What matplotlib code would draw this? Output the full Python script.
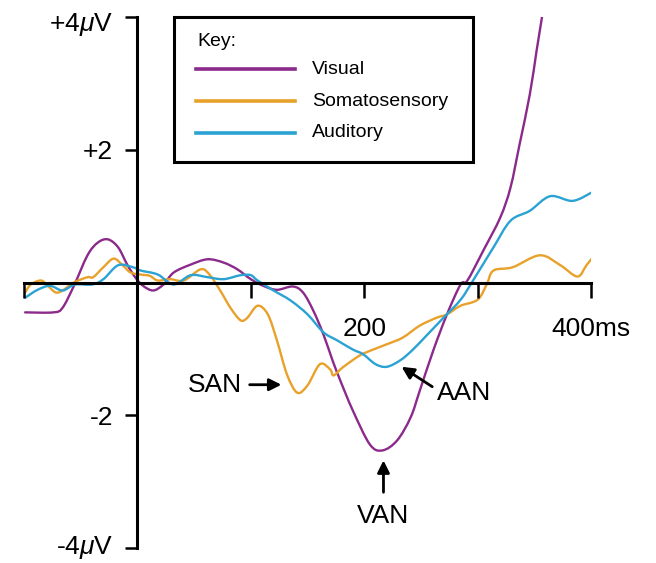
import matplotlib
matplotlib.use("Agg")
import matplotlib.pyplot as plt
from matplotlib.lines import Line2D
from matplotlib.patches import Rectangle, PathPatch
from matplotlib.path import Path
from matplotlib.transforms import ScaledTranslation

plt.rcParams['font.family'] = ['Liberation Sans', 'DejaVu Sans']
plt.rcParams['mathtext.fontset'] = 'custom'
plt.rcParams['mathtext.it'] = 'Liberation Sans:italic'
plt.rcParams['mathtext.rm'] = 'Liberation Sans'

# ERP traces (time in ms, amplitude in microvolts)
visual_t = [-99, -74, -66, -56, -44, -35, -26, -17, -9, -2, 5, 14, 23, 32, 47,
            62, 76, 88, 100, 111, 123, 137, 146, 155, 164, 172, 179, 190, 205,
            216, 229, 241, 249, 261, 273, 285, 291, 305, 320, 329, 337, 346,
            352, 357]
visual_v = [-0.45, -0.45, -0.38, -0.05, 0.41, 0.60, 0.65, 0.53, 0.27, 0.08,
            -0.05, -0.12, -0.03, 0.15, 0.27, 0.35, 0.30, 0.20, 0.05, -0.05,
            -0.11, -0.06, -0.15, -0.42, -0.78, -1.17, -1.48, -1.93, -2.44,
            -2.53, -2.38, -2.03, -1.63, -1.02, -0.48, -0.03, 0.03, 0.48, 0.98,
            1.43, 2.08, 2.83, 3.49, 4.02]

somato_t = [-99, -94, -85, -79, -72, -66, -56, -44, -39, -30, -21, -13, -6, 3,
            11, 18, 29, 41, 56, 64, 73, 82, 91, 97, 106, 115, 123, 132, 141,
            150, 161, 170, 173, 181, 196, 208, 220, 234, 249, 264, 273, 285,
            300, 308, 314, 331, 355, 373, 388, 396, 403]
somato_v = [-0.15, -0.03, 0.03, -0.05, -0.15, -0.12, 0.0, 0.08, 0.08, 0.23,
            0.36, 0.26, 0.15, 0.12, 0.10, 0.03, 0.05, 0.03, 0.20, 0.11, -0.12,
            -0.38, -0.57, -0.53, -0.35, -0.48, -0.87, -1.39, -1.66, -1.55,
            -1.23, -1.31, -1.40, -1.28, -1.10, -1.01, -0.93, -0.83, -0.65,
            -0.53, -0.48, -0.35, -0.26, -0.03, 0.18, 0.23, 0.41, 0.26, 0.09,
            0.26, 0.41]

audit_t = [-99, -88, -77, -66, -55, -40, -30, -17, -4, 3, 18, 32, 47, 62, 76,
           91, 100, 106, 120, 135, 150, 164, 176, 190, 199, 210, 220, 232, 243,
           256, 270, 285, 296, 314, 329, 346, 364, 384, 402]
audit_v = [-0.23, -0.11, -0.05, -0.12, -0.03, -0.03, 0.05, 0.26, 0.23, 0.18,
           0.12, -0.03, 0.11, 0.08, 0.05, 0.11, 0.11, 0.03, -0.12, -0.27, -0.48,
           -0.75, -0.87, -1.01, -1.08, -1.23, -1.27, -1.17, -1.01, -0.78, -0.53,
           -0.26, 0.03, 0.53, 0.93, 1.08, 1.30, 1.23, 1.37]

names = ['Visual', 'Somatosensory', 'Auditory']
colors = ['#8b2a8b', '#e8a12a', '#2aa2d4']

ytick_vals = [-4, -2, 2, 4]
ytick_labels = [r'-4$\mu$V', '-2', '+2', r'+4$\mu$V']
xtick_vals = [-100, 100, 200, 300, 400]
xtick_labels = ['', '', '200', '', '400ms']


def smooth_path(t, v):
    # Catmull-Rom through the read points, drawn as cubic Bezier segments
    pts = list(zip(t, v))
    verts = [pts[0]]
    codes = [Path.MOVETO]
    n = len(pts)
    for i in range(n - 1):
        p0 = pts[max(i - 1, 0)]
        p1 = pts[i]
        p2 = pts[i + 1]
        p3 = pts[min(i + 2, n - 1)]
        c1 = (p1[0] + (p2[0] - p0[0]) / 6, p1[1] + (p2[1] - p0[1]) / 6)
        c2 = (p2[0] - (p3[0] - p1[0]) / 6, p2[1] - (p3[1] - p1[1]) / 6)
        verts += [c1, c2, p2]
        codes += [Path.CURVE4] * 3
    return Path(verts, codes)


W, H = 656, 563
fig = plt.figure(figsize=(W / 100, H / 100), dpi=100)
ax = fig.add_axes([24 / W, 15 / H, 567 / W, 531 / H])

series = [(visual_t, visual_v), (somato_t, somato_v), (audit_t, audit_v)]
for (t, v), c in zip(series, colors):
    ax.add_patch(PathPatch(smooth_path(t, v), fill=False, ec=c, lw=1.7,
                           capstyle='round', joinstyle='round'))

ax.set_xlim(-100, 400)
ax.set_ylim(-4, 4)

for s in ['top', 'right']:
    ax.spines[s].set_visible(False)
ax.spines['left'].set_position(('data', 0))
ax.spines['bottom'].set_position(('data', 0))
for s in ['left', 'bottom']:
    ax.spines[s].set_linewidth(2.2)
    ax.spines[s].set_zorder(3)

ax.set_yticks(ytick_vals)
ax.set_yticklabels(ytick_labels)
ax.set_xticks(xtick_vals)
ax.set_xticklabels(xtick_labels)
ax.tick_params(axis='y', direction='out', length=8.5, width=1.8,
               labelsize=19, pad=9)
ax.tick_params(axis='x', direction='out', length=11, width=1.8,
               labelsize=19, pad=14)
ax.patch.set_visible(False)

# end labels sit a little inside the figure
ylabs = ax.get_yticklabels()
ylabs[0].set_transform(ylabs[0].get_transform() +
                       ScaledTranslation(0, 4 / 100, fig.dpi_scale_trans))
ylabs[-1].set_transform(ylabs[-1].get_transform() +
                        ScaledTranslation(0, -4 / 100, fig.dpi_scale_trans))

# component annotations
arrow = dict(arrowstyle='-|>', color='black', lw=2, mutation_scale=18,
             shrinkA=0, shrinkB=0)
ax.annotate('', xy=(127, -1.54), xytext=(99, -1.54), arrowprops=arrow)
ax.text(68, -1.54, 'SAN', fontsize=19, ha='center', va='center')
ax.annotate('', xy=(233, -1.27), xytext=(260, -1.57), arrowprops=arrow)
ax.text(288, -1.66, 'AAN', fontsize=19, ha='center', va='center')
ax.annotate('', xy=(217, -2.68), xytext=(217, -3.16), arrowprops=arrow)
ax.text(217, -3.52, 'VAN', fontsize=19, ha='center', va='center')


# key box
def fx(x):
    return x / W


def fy(y):
    return 1 - y / H


fig.patches.append(Rectangle((fx(174), fy(162)), (473 - 174) / W,
                             (162 - 17) / H, transform=fig.transFigure,
                             fill=False, lw=2.2, ec='black'))
fig.text(fx(197), fy(42), 'Key:', fontsize=14, ha='left', va='center')
for i, (n, c) in enumerate(zip(names, colors)):
    yy = fy(69 + 32 * i)
    fig.add_artist(Line2D([fx(196), fx(295)], [yy, yy], color=c, lw=2.6,
                          transform=fig.transFigure))
    fig.text(fx(312), yy, n, fontsize=14, ha='left', va='center')

fig.savefig('out.png', dpi=100)
